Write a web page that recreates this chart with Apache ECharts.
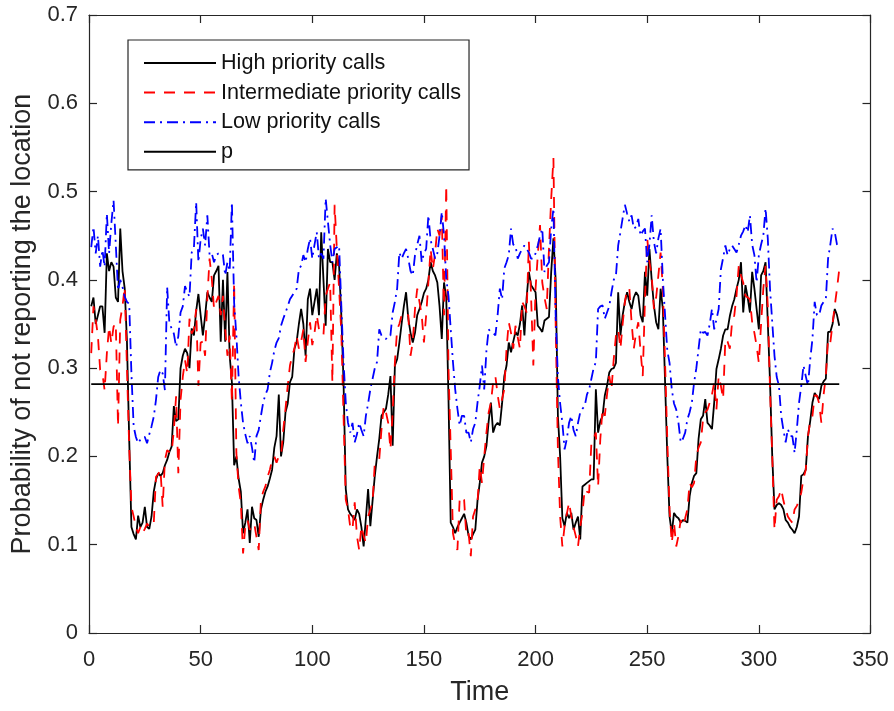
<!DOCTYPE html>
<html>
<head>
<meta charset="utf-8">
<script src="https://cdn.jsdelivr.net/npm/echarts@6/dist/echarts.min.js"></script>
<style>
html,body{margin:0;padding:0;background:#fff;}
#chart{width:894px;height:711px;}
</style>
</head>
<body>
<div id="chart"></div>
<script>
const timeStart = 1;
const seriesNames = ['High priority calls', 'Intermediate priority calls', 'Low priority calls', 'p'];
const xTicks = [0, 50, 100, 150, 200, 250, 300, 350];
const yTicks = [0, 0.1, 0.2, 0.3, 0.4, 0.5, 0.6, 0.7];
const pLevel = 0.282;
const pRange = [1, 336];

const highCalls = [
0.37,0.38,0.35,0.36,0.37,0.37,0.34,0.43,0.41,0.42,0.415,0.38,
0.375,0.458,0.41,0.39,0.33,0.22,0.12,0.112,0.106,0.133,0.12,0.125,
0.143,0.12,0.118,0.132,0.16,0.174,0.181,0.178,0.181,0.19,0.196,0.205,
0.211,0.257,0.24,0.242,0.3,0.314,0.322,0.317,0.3,0.345,0.337,0.365,
0.384,0.36,0.337,0.359,0.386,0.38,0.375,0.405,0.41,0.416,0.33,0.4,
0.33,0.409,0.314,0.284,0.19,0.2,0.175,0.16,0.113,0.125,0.14,0.102,
0.143,0.13,0.128,0.109,0.14,0.151,0.16,0.166,0.175,0.185,0.21,0.223,
0.27,0.2,0.216,0.25,0.26,0.284,0.29,0.322,0.33,0.35,0.367,0.35,
0.314,0.378,0.39,0.36,0.375,0.39,0.36,0.454,0.4,0.348,0.435,0.42,
0.42,0.4,0.43,0.416,0.36,0.284,0.163,0.14,0.135,0.132,0.128,0.14,
0.135,0.12,0.098,0.13,0.163,0.121,0.15,0.178,0.2,0.22,0.246,0.25,
0.254,0.27,0.291,0.212,0.303,0.31,0.329,0.35,0.37,0.386,0.356,0.34,
0.329,0.34,0.36,0.367,0.375,0.385,0.39,0.4,0.42,0.41,0.405,0.397,
0.37,0.333,0.397,0.38,0.265,0.125,0.12,0.113,0.12,0.125,0.13,0.135,
0.125,0.11,0.106,0.112,0.117,0.15,0.17,0.193,0.2,0.212,0.24,0.261,
0.227,0.235,0.238,0.235,0.26,0.291,0.303,0.329,0.318,0.33,0.341,0.337,
0.35,0.371,0.337,0.38,0.409,0.394,0.39,0.386,0.348,0.345,0.341,0.354,
0.356,0.358,0.409,0.447,0.4,0.246,0.2,0.13,0.121,0.136,0.13,0.136,
0.117,0.125,0.132,0.106,0.166,0.168,0.17,0.172,0.174,0.174,0.276,0.227,
0.24,0.246,0.269,0.28,0.295,0.299,0.3,0.306,0.386,0.337,0.36,0.375,
0.386,0.375,0.367,0.38,0.386,0.382,0.36,0.352,0.409,0.382,0.435,0.4,
0.371,0.352,0.344,0.39,0.367,0.284,0.2,0.132,0.113,0.136,0.132,0.13,
0.125,0.128,0.127,0.125,0.155,0.17,0.178,0.181,0.22,0.242,0.246,0.265,
0.238,0.235,0.231,0.261,0.299,0.31,0.322,0.337,0.344,0.344,0.359,0.37,
0.378,0.39,0.4,0.42,0.363,0.394,0.38,0.363,0.409,0.39,0.367,0.344,
0.405,0.41,0.42,0.352,0.284,0.2,0.14,0.145,0.147,0.145,0.14,0.128,
0.125,0.12,0.117,0.113,0.12,0.132,0.178,0.18,0.185,0.223,0.24,0.261,
0.272,0.268,0.265,0.28,0.285,0.288,0.341,0.341,0.35,0.367,0.36,0.348
];

const intermediateCalls = [
0.317,0.37,0.355,0.336,0.298,0.294,0.275,0.317,0.347,0.328,0.347,0.351,
0.234,0.355,0.37,0.392,0.3,0.211,0.143,0.132,0.12,0.113,0.12,0.113,
0.118,0.124,0.12,0.124,0.124,0.177,0.18,0.185,0.143,0.196,0.207,0.205,
0.204,0.23,0.268,0.181,0.264,0.29,0.309,0.294,0.356,0.339,0.344,0.367,
0.28,0.329,0.33,0.314,0.38,0.424,0.401,0.367,0.375,0.382,0.36,0.382,
0.344,0.314,0.337,0.261,0.397,0.204,0.166,0.147,0.09,0.121,0.128,0.117,
0.12,0.124,0.109,0.094,0.151,0.16,0.166,0.177,0.185,0.196,0.2,0.193,
0.2,0.2,0.23,0.254,0.28,0.303,0.314,0.322,0.337,0.322,0.33,0.344,
0.307,0.33,0.352,0.326,0.34,0.36,0.344,0.34,0.337,0.382,0.39,0.397,
0.284,0.485,0.435,0.39,0.341,0.246,0.151,0.14,0.12,0.117,0.148,0.11,
0.094,0.121,0.11,0.102,0.132,0.14,0.148,0.193,0.195,0.197,0.231,0.257,
0.25,0.238,0.208,0.25,0.307,0.344,0.35,0.36,0.363,0.36,0.36,0.314,
0.33,0.367,0.39,0.375,0.36,0.329,0.36,0.397,0.435,0.412,0.43,0.458,
0.45,0.473,0.36,0.507,0.3,0.208,0.113,0.1,0.094,0.151,0.155,0.151,
0.11,0.113,0.087,0.132,0.14,0.148,0.189,0.17,0.2,0.227,0.25,0.261,
0.284,0.291,0.27,0.254,0.265,0.276,0.322,0.352,0.34,0.322,0.348,0.335,
0.322,0.375,0.37,0.363,0.443,0.38,0.303,0.39,0.428,0.462,0.397,0.38,
0.367,0.435,0.492,0.538,0.35,0.208,0.132,0.098,0.121,0.135,0.148,0.132,
0.12,0.11,0.098,0.12,0.136,0.163,0.16,0.159,0.216,0.22,0.227,0.166,
0.22,0.254,0.246,0.27,0.291,0.276,0.31,0.337,0.344,0.322,0.35,0.375,
0.39,0.39,0.352,0.322,0.34,0.352,0.32,0.291,0.378,0.447,0.42,0.405,
0.367,0.38,0.405,0.431,0.39,0.306,0.219,0.14,0.102,0.125,0.098,0.11,
0.128,0.121,0.13,0.14,0.17,0.165,0.17,0.2,0.21,0.216,0.242,0.25,
0.253,0.261,0.27,0.284,0.253,0.291,0.28,0.265,0.333,0.33,0.322,0.352,
0.36,0.382,0.416,0.405,0.397,0.382,0.38,0.378,0.352,0.34,0.325,0.306,
0.35,0.39,0.416,0.371,0.276,0.2,0.117,0.151,0.155,0.163,0.15,0.14,
0.132,0.128,0.125,0.14,0.144,0.15,0.159,0.175,0.185,0.223,0.24,0.246,
0.269,0.269,0.26,0.238,0.27,0.291,0.333,0.329,0.35,0.371,0.39,0.412
];

const lowCalls = [
0.437,0.46,0.43,0.45,0.415,0.434,0.415,0.475,0.43,0.464,0.49,0.44,
0.388,0.4,0.392,0.381,0.375,0.373,0.294,0.234,0.222,0.215,0.219,0.222,
0.222,0.215,0.225,0.234,0.245,0.264,0.29,0.298,0.294,0.275,0.392,0.351,
0.345,0.339,0.324,0.336,0.363,0.37,0.393,0.386,0.381,0.431,0.437,0.488,
0.42,0.446,0.458,0.439,0.473,0.428,0.43,0.42,0.428,0.43,0.431,0.428,
0.405,0.42,0.41,0.488,0.374,0.337,0.291,0.261,0.238,0.225,0.215,0.223,
0.21,0.193,0.223,0.23,0.246,0.261,0.27,0.276,0.295,0.306,0.32,0.329,
0.334,0.348,0.356,0.363,0.37,0.378,0.382,0.386,0.39,0.412,0.416,0.428,
0.42,0.435,0.447,0.424,0.44,0.454,0.424,0.43,0.424,0.492,0.466,0.44,
0.42,0.435,0.437,0.439,0.371,0.307,0.261,0.238,0.227,0.238,0.216,0.225,
0.238,0.23,0.223,0.246,0.26,0.276,0.288,0.3,0.307,0.344,0.337,0.335,
0.333,0.337,0.337,0.363,0.375,0.39,0.431,0.424,0.43,0.435,0.424,0.41,
0.405,0.428,0.44,0.45,0.42,0.43,0.435,0.473,0.445,0.435,0.424,0.43,
0.45,0.477,0.45,0.401,0.382,0.344,0.307,0.276,0.254,0.235,0.246,0.246,
0.227,0.227,0.216,0.231,0.238,0.261,0.28,0.303,0.276,0.32,0.344,0.341,
0.34,0.337,0.36,0.39,0.378,0.413,0.42,0.428,0.458,0.44,0.439,0.424,
0.43,0.435,0.439,0.435,0.431,0.424,0.424,0.43,0.439,0.45,0.458,0.409,
0.416,0.42,0.458,0.481,0.36,0.29,0.26,0.238,0.208,0.22,0.238,0.246,
0.23,0.223,0.238,0.25,0.254,0.257,0.27,0.276,0.288,0.3,0.307,0.367,
0.37,0.371,0.356,0.363,0.37,0.386,0.4,0.405,0.439,0.454,0.47,0.485,
0.475,0.466,0.473,0.458,0.46,0.469,0.45,0.455,0.458,0.42,0.44,0.473,
0.443,0.43,0.447,0.458,0.401,0.36,0.32,0.306,0.276,0.26,0.253,0.238,
0.216,0.22,0.227,0.242,0.25,0.261,0.284,0.3,0.322,0.344,0.34,0.341,
0.337,0.35,0.367,0.344,0.355,0.367,0.412,0.425,0.439,0.428,0.435,0.439,
0.435,0.431,0.44,0.45,0.455,0.462,0.454,0.473,0.44,0.428,0.397,0.428,
0.44,0.45,0.481,0.447,0.39,0.352,0.314,0.29,0.28,0.246,0.23,0.216,
0.231,0.223,0.223,0.204,0.23,0.261,0.28,0.303,0.291,0.28,0.31,0.333,
0.375,0.36,0.36,0.371,0.375,0.378,0.424,0.44,0.458,0.454,0.44,0.435
];

function toPairs(arr) {
  return arr.map((v, i) => [timeStart + i, v]);
}

const axisColor = '#262626';
const fontFam = '"Liberation Sans", Arial, Helvetica, sans-serif';

const chart = echarts.init(document.getElementById('chart'), null, {renderer: 'canvas'});

const xBase = {
  type: 'value', min: xTicks[0], max: xTicks[xTicks.length - 1],
  interval: xTicks[1] - xTicks[0],
  splitLine: {show: false},
  axisLine: {show: true, onZero: false, lineStyle: {color: axisColor, width: 1.2}},
  axisTick: {show: true, inside: true, length: 8, lineStyle: {color: axisColor, width: 1.2}}
};
const yBase = {
  type: 'value', min: yTicks[0], max: yTicks[yTicks.length - 1],
  interval: 0.1,
  splitLine: {show: false},
  axisLine: {show: true, onZero: false, lineStyle: {color: axisColor, width: 1.2}},
  axisTick: {show: true, inside: true, length: 8, lineStyle: {color: axisColor, width: 1.2}}
};

const option = {
  animation: false,
  backgroundColor: '#fff',
  textStyle: {fontFamily: fontFam},
  grid: {left: 89, right: 23.5, top: 15, bottom: 78, containLabel: false},
  legend: {
    orient: 'vertical',
    left: 128, top: 40,
    data: seriesNames,
    backgroundColor: '#fff',
    borderColor: axisColor,
    borderWidth: 1.2,
    borderRadius: 0,
    padding: [12, 8, 7, 15],
    itemWidth: 72,
    itemHeight: 20,
    itemGap: 7.6,
    itemStyle: {opacity: 0},
    textStyle: {fontSize: 21.6, color: '#111', fontFamily: fontFam, lineHeight: 22}
  },
  xAxis: [
    Object.assign({}, xBase, {
      position: 'bottom',
      axisLabel: {fontSize: 22, color: axisColor, margin: 16, fontFamily: fontFam},
      name: 'Time', nameLocation: 'middle', nameGap: 46,
      nameTextStyle: {fontSize: 27, color: axisColor, fontFamily: fontFam}
    }),
    Object.assign({}, xBase, {position: 'top', axisLabel: {show: false}})
  ],
  yAxis: [
    Object.assign({}, yBase, {
      position: 'left',
      axisLabel: {fontSize: 22, color: axisColor, margin: 11, fontFamily: fontFam,
        formatter: v => (v === 0 ? '0' : v.toFixed(1))},
      name: 'Probability of not reporting the location', nameLocation: 'middle', nameGap: 51,
      nameTextStyle: {fontSize: 27, color: axisColor, fontFamily: fontFam}
    }),
    Object.assign({}, yBase, {position: 'right', axisLabel: {show: false}})
  ],
  series: [
    {name: seriesNames[0], type: 'line', data: toPairs(highCalls), symbol: 'none',
     lineStyle: {color: '#000', width: 1.8, type: 'solid'}, itemStyle: {color: '#000'}},
    {name: seriesNames[1], type: 'line', data: toPairs(intermediateCalls), symbol: 'none',
     lineStyle: {color: '#ff0000', width: 1.8, type: [11, 9]}, itemStyle: {color: '#ff0000'}},
    {name: seriesNames[2], type: 'line', data: toPairs(lowCalls), symbol: 'none',
     lineStyle: {color: '#0000ff', width: 1.8, type: [11, 5, 2, 5]}, itemStyle: {color: '#0000ff'}},
    {name: seriesNames[3], type: 'line', data: [[pRange[0], pLevel], [pRange[1], pLevel]], symbol: 'none',
     lineStyle: {color: '#000', width: 1.8, type: 'solid'}, itemStyle: {color: '#000'}}
  ]
};
chart.setOption(option);
</script>
</body>
</html>
